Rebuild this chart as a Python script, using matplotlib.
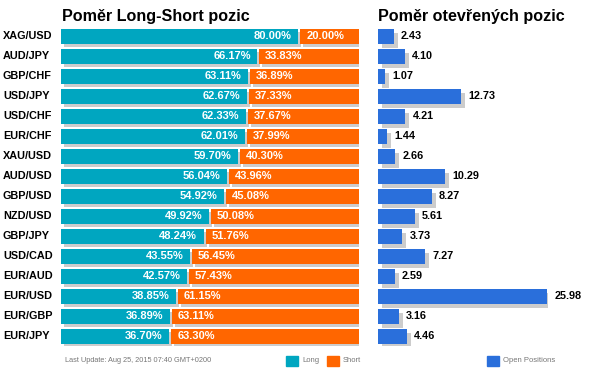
import matplotlib
matplotlib.use("Agg")
import matplotlib.pyplot as plt

# ---------------------------------------------------------------------------
# Data
# ---------------------------------------------------------------------------

pairs = ["XAG/USD", "AUD/JPY", "GBP/CHF", "USD/JPY", "USD/CHF", "EUR/CHF",
         "XAU/USD", "AUD/USD", "GBP/USD", "NZD/USD", "GBP/JPY", "USD/CAD",
         "EUR/AUD", "EUR/USD", "EUR/GBP", "EUR/JPY"]
long_pct = [80.00, 66.17, 63.11, 62.67, 62.33, 62.01, 59.70, 56.04, 54.92,
            49.92, 48.24, 43.55, 42.57, 38.85, 36.89, 36.70]
short_pct = [20.00, 33.83, 36.89, 37.33, 37.67, 37.99, 40.30, 43.96, 45.08,
             50.08, 51.76, 56.45, 57.43, 61.15, 63.11, 63.30]
open_pos = [2.43, 4.10, 1.07, 12.73, 4.21, 1.44, 2.66, 10.29, 8.27, 5.61,
            3.73, 7.27, 2.59, 25.98, 3.16, 4.46]

TEAL   = "#00a6c0"
ORANGE = "#ff6600"
BLUE   = "#2a6fdb"
SHADOW = "#cccccc"

W, H = 590, 374
plt.rcParams["font.family"] = ["Liberation Sans", "DejaVu Sans"]

fig = plt.figure(figsize=(W / 100, H / 100), dpi=100)
fig.patch.set_facecolor("white")


def px_axes(x0, x1, y0, y1):
    return fig.add_axes([x0 / W, 1 - y1 / H, (x1 - x0) / W, (y1 - y0) / H])


n = len(pairs)
rows = list(range(n))
bar_h = 0.75

# ---------------------------------------------------------------------------
# Left panel: long / short ratio
# ---------------------------------------------------------------------------

ax1 = px_axes(61, 359, 26, 346)
ax1.set_xlim(0, 100)
ax1.set_ylim(n - 0.5, -0.5)
ax1.axis("off")

dx = 3 * 100 / 298      # 3 px shadow offset in data units
dy = 3 / 20
gap = 2 * 100 / 298

ax1.barh([r + dy for r in rows], [l - gap / 2 for l in long_pct], left=dx,
         height=bar_h, color=SHADOW, zorder=1)
ax1.barh([r + dy for r in rows], [s - gap / 2 for s in short_pct],
         left=[l + gap / 2 + dx for l in long_pct], height=bar_h,
         color=SHADOW, zorder=1)
ax1.barh(rows, [l - gap / 2 for l in long_pct], height=bar_h, color=TEAL,
         zorder=2)
ax1.barh(rows, [s - gap / 2 for s in short_pct],
         left=[l + gap / 2 for l in long_pct], height=bar_h, color=ORANGE,
         zorder=2)

for r, l, s, p in zip(rows, long_pct, short_pct, pairs):
    ax1.text(l - gap / 2 - 2.2, r, f"{l:.2f}%", ha="right", va="center",
             color="white", fontsize=8, fontweight="bold", zorder=3)
    ax1.text(l + gap / 2 + 2.0, r, f"{s:.2f}%", ha="left", va="center",
             color="white", fontsize=8, fontweight="bold", zorder=3)
    ax1.text(-58 * 100 / 298, r, p, ha="left", va="center", color="black",
             fontsize=7.8, fontweight="bold")

fig.text(62 / W, 1 - 16 / H, "Poměr Long-Short pozic", ha="left",
         va="center", fontsize=11.6, fontweight="bold")

# ---------------------------------------------------------------------------
# Right panel: open positions
# ---------------------------------------------------------------------------

ax2 = px_axes(378, 378 + 26 * 6.52, 26, 346)
ax2.set_xlim(0, 26)
ax2.set_ylim(n - 0.5, -0.5)
ax2.axis("off")

ox = 4 / 6.52
oy = 4 / 20
ax2.barh([r + oy for r in rows], open_pos, left=ox, height=bar_h,
         color=SHADOW, zorder=1)
ax2.barh(rows, open_pos, height=bar_h, color=BLUE, zorder=2)
for r, v in zip(rows, open_pos):
    ax2.text(v + 7 / 6.52, r, f"{v:.2f}", ha="left", va="center",
             color="black", fontsize=7.8, fontweight="bold", clip_on=False)

fig.text(378 / W, 1 - 16 / H, "Poměr otevřených pozic", ha="left",
         va="center", fontsize=11.6, fontweight="bold")

# ---------------------------------------------------------------------------
# Footer + legend
# ---------------------------------------------------------------------------

fig.text(65 / W, 1 - 361 / H, "Last Update: Aug 25, 2015 07:40 GMT+0200",
         ha="left", va="center", fontsize=5.3, color="#777777")

for x0, col, lbl in [(286, TEAL, "Long"), (327, ORANGE, "Short"),
                     (487, BLUE, "Open Positions")]:
    fig.patches.append(plt.Rectangle((x0 / W, 1 - 366 / H), 12 / W, 10 / H,
                                     color=col, transform=fig.transFigure))
    fig.text((x0 + 16) / W, 1 - 361 / H, lbl, ha="left", va="center",
             fontsize=5.5, color="#777777")

plt.savefig("out.png", dpi=100)
